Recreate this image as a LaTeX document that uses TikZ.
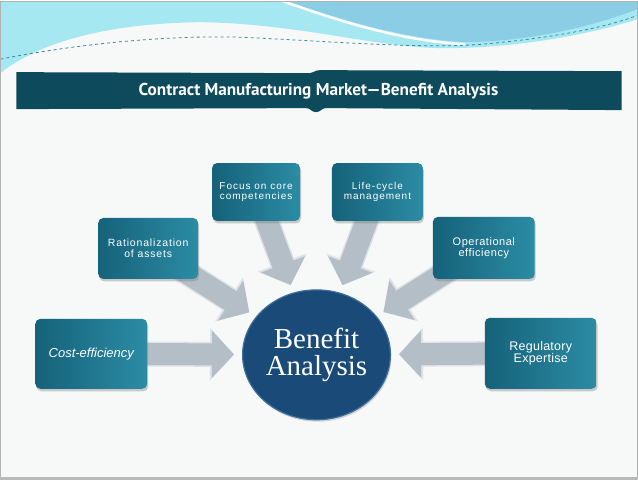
\documentclass[tikz,border=0pt]{standalone}
\usepackage{fontspec}
\newfontfamily\boxfont{Liberation Sans}
\newfontfamily\titlefont{PT Sans}
\newfontfamily\hubfont{Liberation Serif}
\usetikzlibrary{arrows.meta,shadows,shapes.geometric}

\definecolor{paper}{HTML}{F7F8F8}
\definecolor{wavecyan}{HTML}{A6E8F2}
\definecolor{waveblue}{HTML}{8CCDE6}
\definecolor{wavedash}{HTML}{3A8AA0}
\definecolor{banner}{HTML}{0C4A5C}
\definecolor{boxdark}{HTML}{15627A}
\definecolor{boxlight}{HTML}{2B8CA4}
\definecolor{hubblue}{HTML}{1A4A78}
\definecolor{hubrim}{HTML}{3E6E9C}
\definecolor{arrowgrey}{HTML}{B3BEC6}
\definecolor{arrowedge}{HTML}{DCE2E6}

\pgfdeclarelayer{background}
\pgfdeclarelayer{arrows}
\pgfsetlayers{background,arrows,main}

\begin{document}
\begin{tikzpicture}[x=1pt,y=-1pt,
  every node/.style={align=center},
  box/.style={rounded corners=5pt,left color=boxdark,right color=boxlight,
    drop shadow={opacity=0.4,shadow xshift=1pt,shadow yshift=-2.5pt},
    text=white,inner sep=2pt},
  hub/.style={ellipse,fill=hubblue,draw=hubrim,line width=1.2pt,
    minimum width=148pt,minimum height=130pt,inner sep=0pt,text=white,
    drop shadow={opacity=0.3,shadow xshift=1pt,shadow yshift=-2pt},
    font=\hubfont\fontsize{29}{27}\selectfont},
  feed/.style={-{Triangle[length=22pt,width=46pt]},line width=22pt,arrowgrey,
    shorten >=8pt,
    preaction={draw=arrowedge,line width=25pt,
      -{Triangle[length=24pt,width=51pt]}}}]

  % Slide background, wave and title band
  \begin{pgfonlayer}{background}
    \fill[paper] (0,0) rectangle (638,479);
    \fill[wavecyan] (0,0) -- (638,0) -- (638,18)
      .. controls (600,30) and (530,46) .. (450,47)
      .. controls (380,48) and (300,22) .. (200,21)
      .. controls (110,22) and (40,40) .. (0,72) -- cycle;
    \fill[waveblue] (288,0) -- (638,0) -- (638,8)
      .. controls (600,22) and (540,40) .. (465,41)
      .. controls (410,38) and (350,22) .. (288,0) -- cycle;
    \draw[white,line width=2.5pt] (283,0)
      .. controls (345,22) and (405,40) .. (465,43);
    \draw[wavedash,dashed,line width=0.8pt] (0,58)
      .. controls (80,42) and (170,34) .. (240,36)
      .. controls (330,40) and (420,48) .. (483,43)
      .. controls (560,36) and (610,25) .. (638,14);
    \fill[banner] (16,71) -- (310,72)
      .. controls (314,72) and (314,69) .. (320,69) -- (622,70) -- (622,109)
      -- (326,107) .. controls (321,107) and (321,111) .. (316,111)
      .. controls (311,111) and (311,107) .. (306,107) -- (16,108) -- cycle;
    \draw[gray!60,line width=1pt] (0.5,479) -- (0.5,0.5) -- (637.5,0.5) -- (637.5,479);
    \fill[gray!55] (0,476) rectangle (638,479);
  \end{pgfonlayer}

  \node[text=white,font=\titlefont\bfseries\fontsize{17.2}{19}\selectfont] (title) at (318.5,90)
    {Contract Manufacturing Market—Benefit Analysis};

  % Centre and the six benefit boxes
  \node[hub] (benefit) at (316.5,354) {Benefit\\Analysis};

  \node[box,minimum width=112pt,minimum height=70pt,
    font=\boxfont\itshape\fontsize{13}{14}\selectfont] (costefficiency) at (91,353)
    {Cost-efficiency};
  \node[box,minimum width=100pt,minimum height=61pt,
    font=\boxfont\addfontfeature{LetterSpace=8}\fontsize{10.5}{10.5}\selectfont]
    (rationalization) at (148,247.5) {Rationalization\\of assets};
  \node[box,minimum width=88pt,minimum height=58pt,
    font=\boxfont\addfontfeature{LetterSpace=10}\fontsize{10}{10}\selectfont]
    (corecompetencies) at (256,191) {Focus on core\\competencies};
  \node[box,minimum width=91pt,minimum height=58pt,
    font=\boxfont\addfontfeature{LetterSpace=10}\fontsize{10}{10}\selectfont]
    (lifecycle) at (377.5,191) {Life-cycle\\management};
  \node[box,minimum width=102pt,minimum height=62pt,
    font=\boxfont\addfontfeature{LetterSpace=5}\fontsize{11}{10.5}\selectfont]
    (operational) at (484,247) {Operational\\efficiency};
  \node[box,minimum width=112pt,minimum height=71pt,
    font=\boxfont\addfontfeature{LetterSpace=2}\fontsize{12.5}{12}\selectfont]
    (regulatory) at (541,352.5) {Regulatory\\Expertise};

  % Block arrows into the centre
  \begin{pgfonlayer}{arrows}
    \draw[feed] (costefficiency.center) -- (benefit);
    \draw[feed] (rationalization.center) -- (benefit);
    \draw[feed] (corecompetencies.center) -- (benefit);
    \draw[feed] (lifecycle.center) -- (benefit);
    \draw[feed] (operational.center) -- (benefit);
    \draw[feed] (regulatory.center) -- (benefit);
  \end{pgfonlayer}
\end{tikzpicture}
\end{document}
